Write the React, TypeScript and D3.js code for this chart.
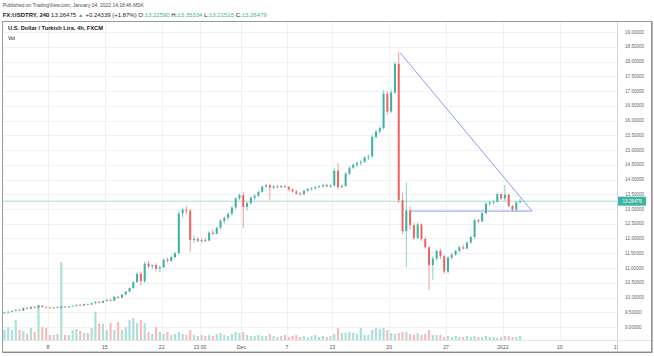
import React from "react";
import * as d3 from "d3";

// [open, high, low, close] — 8h bars, 3 per trading day, starting Nov 2 2021
const candles: [number, number, number, number][] = [
  [9.47,9.50,9.45,9.49],[9.49,9.53,9.47,9.52],[9.52,9.56,9.50,9.55],
  [9.55,9.60,9.53,9.58],[9.58,9.62,9.55,9.56],[9.56,9.66,9.55,9.64],
  [9.64,9.68,9.60,9.62],[9.62,9.70,9.61,9.68],[9.68,9.71,9.64,9.66],
  [9.66,9.76,9.63,9.72],[9.72,9.74,9.66,9.68],[9.68,9.70,9.64,9.66],
  [9.66,9.69,9.62,9.64],[9.64,9.68,9.62,9.67],[9.67,9.70,9.64,9.65],
  [9.65,9.72,9.63,9.69],[9.69,9.71,9.66,9.67],[9.67,9.71,9.65,9.70],
  [9.70,9.73,9.68,9.72],[9.72,9.76,9.70,9.75],[9.75,9.78,9.72,9.73],
  [9.73,9.79,9.72,9.78],[9.78,9.80,9.74,9.76],[9.76,9.83,9.75,9.81],
  [9.81,9.87,9.79,9.85],[9.85,9.88,9.80,9.82],[9.82,9.90,9.81,9.88],
  [9.88,9.94,9.86,9.92],[9.92,9.95,9.87,9.89],[9.89,10.04,9.88,10.02],
  [10.02,10.06,9.96,9.99],[9.99,10.12,9.98,10.10],[10.10,10.22,10.08,10.20],
  [10.20,10.34,10.18,10.32],[10.32,10.55,10.30,10.52],[10.52,10.86,10.50,10.80],
  [10.80,10.88,10.40,10.55],[10.55,11.22,10.50,11.15],[11.15,11.25,10.98,11.05],
  [11.05,11.12,10.96,11.10],[11.10,11.16,10.88,10.98],[10.98,11.08,10.85,11.02],
  [11.02,11.32,11.00,11.28],[11.28,11.36,11.18,11.24],[11.24,11.40,11.22,11.37],
  [11.37,11.55,11.32,11.50],[11.50,12.95,11.48,12.85],[12.85,13.05,12.70,12.98],
  [12.98,13.10,12.82,12.94],[12.94,13.00,11.55,11.95],[11.95,12.10,11.85,11.98],
  [11.98,12.05,11.88,11.92],[11.92,12.00,11.86,11.95],[11.95,12.02,11.88,11.93],
  [11.93,12.25,11.90,12.20],[12.20,12.30,12.12,12.16],[12.16,12.40,12.14,12.36],
  [12.36,12.65,12.30,12.60],[12.60,12.75,12.50,12.70],[12.70,12.88,12.62,12.84],
  [12.84,13.10,12.78,13.05],[13.05,13.40,13.00,13.36],[13.36,13.52,13.30,13.47],
  [13.47,13.58,12.36,13.07],[13.07,13.25,12.95,13.20],[13.20,13.42,13.15,13.38],
  [13.38,13.50,13.30,13.45],[13.45,13.62,13.40,13.58],[13.58,13.80,13.55,13.76],
  [13.76,13.85,13.70,13.81],[13.81,13.86,13.30,13.72],[13.72,13.80,13.68,13.77],
  [13.77,13.82,13.70,13.74],[13.74,13.80,13.70,13.78],[13.78,13.82,13.72,13.75],
  [13.75,13.78,13.62,13.66],[13.66,13.70,13.55,13.60],[13.60,13.64,13.48,13.52],
  [13.52,13.58,13.45,13.50],[13.50,13.66,13.48,13.62],[13.62,13.72,13.58,13.68],
  [13.68,13.74,13.62,13.70],[13.70,13.78,13.66,13.74],[13.74,13.80,13.70,13.77],
  [13.77,13.84,13.72,13.82],[13.82,13.86,13.74,13.76],[13.76,13.84,13.72,13.80],
  [13.80,14.40,13.76,14.30],[14.30,14.56,13.65,13.74],[13.74,13.84,13.70,13.78],
  [13.78,14.25,13.75,14.20],[14.20,14.45,14.15,14.40],[14.40,14.55,14.35,14.50],
  [14.50,14.62,14.42,14.56],[14.56,14.66,14.48,14.60],[14.60,14.80,14.55,14.75],
  [14.75,14.85,14.66,14.78],[14.78,15.50,14.75,15.44],[15.44,15.70,15.38,15.62],
  [15.62,15.80,15.55,15.74],[15.74,17.03,15.70,16.90],[16.90,17.00,16.20,16.30],
  [16.30,17.05,16.25,16.95],[16.95,17.98,16.90,17.92],[17.92,18.33,13.20,13.30],
  [13.30,13.55,12.15,12.25],[12.25,13.90,11.03,12.95],[12.95,13.10,12.30,12.45],
  [12.45,12.55,11.95,12.02],[12.02,12.55,11.98,12.48],[12.48,12.52,11.92,11.98],
  [11.98,12.05,11.65,11.70],[11.70,11.75,10.25,11.10],[11.10,11.40,10.60,11.32],
  [11.32,11.62,11.25,11.58],[11.58,11.66,11.30,11.40],[11.40,11.45,10.80,10.88],
  [10.88,11.40,10.82,11.35],[11.35,11.52,11.28,11.45],[11.45,11.62,11.40,11.58],
  [11.58,11.75,11.52,11.70],[11.70,11.80,11.62,11.66],[11.66,11.90,11.64,11.86],
  [11.86,12.10,11.82,12.05],[12.05,12.66,12.00,12.62],[12.62,12.68,12.52,12.58],
  [12.58,12.90,12.55,12.86],[12.86,13.22,12.82,13.18],[13.18,13.28,13.12,13.22],
  [13.22,13.30,13.15,13.25],[13.25,13.56,13.22,13.50],[13.50,13.55,13.30,13.36],
  [13.36,13.82,13.28,13.48],[13.48,13.52,13.05,13.10],[13.10,13.14,12.92,12.98],
  [12.98,13.24,12.88,13.2259],[13.2259,13.35334,13.21515,13.26479],
];

const volumes: number[] = [
  10,13,10,20,10,9,6,12,8,35,13,12,5,5,6,78,5,5,10,11,9,7,7,12,28,17,16,10,17,10,
  18,10,13,20,22,17,20,17,8,6,13,8,6,8,5,6,8,6,5,10,5,4,5,4,5,4,6,7,5,4,
  6,8,7,8,5,4,4,5,4,4,6,4,3,4,5,3,4,5,3,4,3,4,5,3,4,3,4,6,12,7,
  7,8,7,6,12,5,5,10,12,11,12,10,7,6,7,8,8,6,5,7,5,6,10,5,5,5,3,4,3,4,
  3,3,4,3,4,3,3,4,3,3,2,3,4,4,3,3,4,
];

const FIRST_DAY = -4; // trading-day index of first bar (Nov 2), Nov 8 = 0
const BARS_PER_DAY = 3;

const timeTickDays = [0, 5, 10, 13.36, 17, 21, 25, 30, 35, 40, 45, 50];
const timeTickLabels = ["8", "15", "22", "13:00", "Dec", "7", "13", "20", "27", "2022", "10", "17"];

const priceTicks = [9, 9.5, 10, 10.5, 11, 11.5, 12, 12.5, 13, 13.5, 14, 14.5, 15, 15.5, 16, 16.5, 17, 17.5, 18, 18.5, 19];

const diagonalLine: [number, number][] = [[30.95, 18.3], [42.55, 12.93]];
const horizontalLine: [number, number][] = [[31.8, 12.93], [42.55, 12.93]];
const lastPrice = 13.26479;

const UP = "#3db2a2";
const DOWN = "#f06262";
const FONT = "'Liberation Sans', Arial, sans-serif";

export default function App() {
  const x = d3.scaleLinear().domain([0, 40]).range([48, 503]);
  const y = d3.scaleLinear().domain([19, 9]).range([32, 327]);
  const vy = d3.scaleLinear().domain([0, 80]).range([340, 260]);
  const bx = (i: number) => x(FIRST_DAY + (i + 0.5) / BARS_PER_DAY);
  const line = d3.line<[number, number]>().x((d) => x(d[0])).y((d) => y(d[1]));

  const left = 3, right = 617, top = 21, bottom = 340;

  return (
    <svg width={654} height={356} style={{ position: "absolute", left: 0, top: 0, background: "#fff" }} fontFamily={FONT}>
      <defs>
        <clipPath id="plotClip"><rect x={left} y={top} width={right - left} height={bottom - top} /></clipPath>
        <clipPath id="timeClip"><rect x={left} y={bottom} width={right - left + 1} height={14} /></clipPath>
      </defs>
      <rect x={0} y={0} width={654} height={356} fill="#fff" />

      {/* header */}
      <text x={2.7} y={7} fontSize={5} fill="#4a4a4a" textLength={141} lengthAdjust="spacingAndGlyphs">
        Published on TradingView.com, January 04, 2022 14:18:46 MSK
      </text>
      <text x={2.7} y={17} fontSize={5} fill="#222" textLength={264} lengthAdjust="spacingAndGlyphs">
        <tspan fontWeight="bold">FX:USDTRY, 240</tspan>
        <tspan> 13.26475 </tspan>
        <tspan fill={UP}>▲</tspan>
        <tspan> +0.24339 (+1.87%) O:</tspan>
        <tspan fill={UP}>13.22590</tspan>
        <tspan> H:</tspan>
        <tspan fill={UP}>13.35334</tspan>
        <tspan> L:</tspan>
        <tspan fill={UP}>13.21515</tspan>
        <tspan> C:</tspan>
        <tspan fill={UP}>13.26479</tspan>
      </text>

      {/* grid */}
      <g stroke="#f0f1f4" strokeWidth={1}>
        {priceTicks.map((p) => (
          <line key={"h" + p} x1={left} x2={right} y1={Math.round(y(p)) + 0.5} y2={Math.round(y(p)) + 0.5} />
        ))}
        {timeTickDays.map((d) => (
          <line key={"v" + d} x1={Math.round(x(d)) + 0.5} x2={Math.round(x(d)) + 0.5} y1={top} y2={bottom} />
        ))}
      </g>

      <g clipPath="url(#plotClip)">
        {/* volume */}
        {volumes.map((v, i) => {
          const c = candles[i];
          const up = c[3] >= c[0];
          return (
            <rect key={"v" + i} x={bx(i) - 1.1} width={2.2} y={vy(v)} height={vy(0) - vy(v)}
              fill={up ? "#abdfd9" : "#f8bbb9"} />
          );
        })}

        {/* last price line */}
        <line x1={left} x2={right} y1={y(lastPrice)} y2={y(lastPrice)} stroke="#a6d9d2" strokeWidth={1} />

        {/* candles */}
        {candles.map((c, i) => {
          const [o, h, l, cl] = c;
          const up = cl >= o;
          const col = up ? UP : DOWN;
          const cx = bx(i);
          const y0 = y(Math.max(o, cl));
          const y1 = y(Math.min(o, cl));
          return (
            <g key={"c" + i}>
              <line x1={cx} x2={cx} y1={y(h)} y2={y(l)} stroke={col} strokeWidth={0.8} strokeOpacity={0.8} />
              <rect x={cx - 1} width={2} y={y0} height={Math.max(0.8, y1 - y0)} fill={col} />
            </g>
          );
        })}

        {/* trend lines */}
        <path d={line(diagonalLine) || ""} stroke="#8c9cec" strokeWidth={1} fill="none" />
        <path d={line(horizontalLine) || ""} stroke="#8c9cec" strokeWidth={1} fill="none" />
      </g>

      {/* legend */}
      <text x={8} y={30} fontSize={5.2} fontWeight="bold" fill="#131722" textLength={95} lengthAdjust="spacingAndGlyphs">
        U.S. Dollar / Turkish Lira, 4h, FXCM
      </text>
      <text x={8} y={40} fontSize={5} fill="#131722">Vol</text>

      {/* axis separators */}
      <line x1={right + 0.5} x2={right + 0.5} y1={top} y2={352} stroke="#d6d6d6" />
      <line x1={left} x2={651} y1={bottom + 0.5} y2={bottom + 0.5} stroke="#e6e6e6" />

      {/* price axis */}
      {priceTicks.map((p) => (
        <text key={"pt" + p} x={625} y={y(p) + 1.7} fontSize={4.6} fill="#666">{p.toFixed(5)}</text>
      ))}
      <rect x={618} y={y(lastPrice) - 4.5} width={28} height={9} fill="#3db3a4" />
      <text x={632} y={y(lastPrice) + 1.7} fontSize={4.6} fill="#fff" textAnchor="middle">{lastPrice.toFixed(5)}</text>

      {/* time axis */}
      <g clipPath="url(#timeClip)">
        {timeTickDays.map((d, i) => (
          <text key={"tt" + i} x={x(d)} y={348.5} fontSize={5.2} fill="#555" textAnchor="middle">{timeTickLabels[i]}</text>
        ))}
      </g>

      {/* frame */}
      <rect x={2.5} y={21.5} width={649} height={330.5} fill="none" stroke="#9a9a9a" strokeWidth={1} />
      <line x1={2.5} x2={652} y1={352.5} y2={352.5} stroke="#8a8a8a" strokeWidth={1.2} />
      <line x1={652} x2={652} y1={21.5} y2={353} stroke="#8a8a8a" strokeWidth={1.2} />
    </svg>
  );
}
